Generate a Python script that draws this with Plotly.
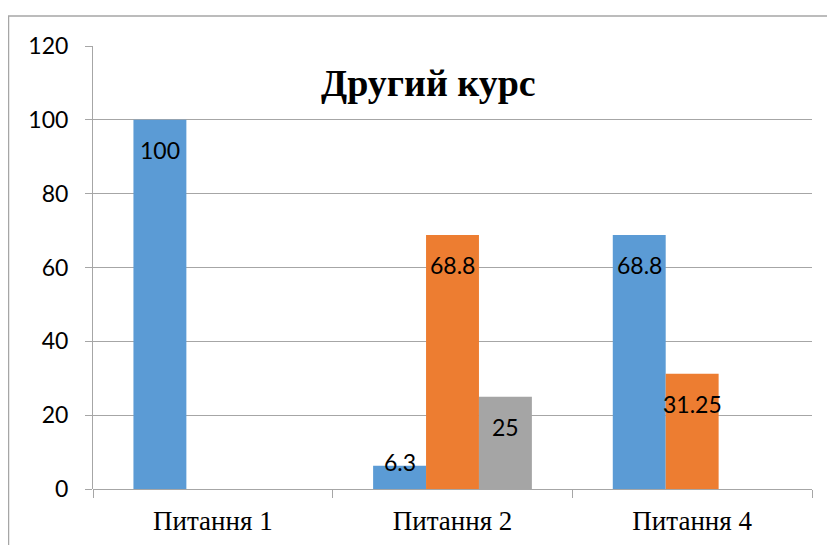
import plotly.graph_objects as go

categories = ["Питання 1", "Питання 2", "Питання 4"]
series_blue = [100, 6.3, 68.8]
series_orange = [None, 68.8, 31.25]
series_gray = [None, 25, None]
labels_blue = ["100", "6.3", "68.8"]
labels_orange = [None, "68.8", "31.25"]
labels_gray = [None, "25", None]
title_text = "Другий курс"
y_ticks = [0, 20, 40, 60, 80, 100, 120]

colors = ["#5B9BD5", "#ED7D31", "#A5A5A5"]
# page body adds an 8px offset; figure coords below are relative to the figure
W, H = 835, 545
ML, MR, MT, MB = 85, 31, 38, 64
BARGAP = 0.3375
label_font = dict(family="Lato, Open Sans, sans-serif", size=23, color="#000000")

series = [(series_blue, labels_blue, colors[0]),
          (series_orange, labels_orange, colors[1]),
          (series_gray, labels_gray, colors[2])]

fig = go.Figure()
for vals, labs, col in series:
    fig.add_trace(go.Bar(
        x=categories, y=vals,
        marker=dict(color=col, line=dict(width=0)),
        showlegend=False, hoverinfo="x+y",
    ))

plot_w = W - ML - MR
plot_h = H - MT - MB
bar_w = plot_w / len(categories) * (1 - BARGAP) / len(series)
annotations = []
for si, (vals, labs, col) in enumerate(series):
    for cat, v, lab in zip(categories, vals, labs):
        if v is None or lab is None:
            continue
        fits = v * plot_h / 120 > 40
        annotations.append(dict(
            x=cat, y=v, xref="x", yref="y", text=lab, showarrow=False,
            xanchor="center", yanchor="middle",
            xshift=(si - 1) * bar_w, yshift=-30 if fits else 4,
            font=label_font,
        ))

annotations.append(dict(
    text="<b>" + title_text + "</b>", x=(420 - ML) / plot_w, y=(H - MB - 75) / plot_h,
    xref="paper", yref="paper", showarrow=False, xanchor="center", yanchor="middle",
    font=dict(family="Liberation Serif", size=38, color="#000"),
))

fig.update_layout(
    width=W, height=H,
    barmode="group", bargap=BARGAP, bargroupgap=0,
    plot_bgcolor="white", paper_bgcolor="white",
    margin=dict(l=ML, r=MR, t=MT, b=MB, autoexpand=False),
    xaxis=dict(
        type="category", tickson="boundaries", ticks="outside", ticklen=8,
        tickcolor="#A6A6A6", showline=False, showgrid=False, automargin=False,
        ticklabelstandoff=13,
        tickfont=dict(family="Liberation Serif", size=27, color="#000"),
    ),
    yaxis=dict(
        range=[0, 120], tickvals=y_ticks, ticks="outside", ticklen=7,
        tickcolor="#A6A6A6", showline=True, linecolor="#A6A6A6", linewidth=1,
        showgrid=True, gridcolor="#A6A6A6", gridwidth=1, zeroline=True,
        zerolinecolor="#A6A6A6", zerolinewidth=1, automargin=False,
        ticklabelstandoff=12,
        tickfont=dict(family="Lato, Open Sans, sans-serif", size=23, color="#000"),
    ),
    annotations=annotations,
    shapes=[dict(
        type="rect", xref="paper", yref="paper",
        x0=(0.5 - ML) / plot_w, x1=1.2, y0=-0.3, y1=(H - MB - 8) / plot_h,
        line=dict(color="#A6A6A6", width=1.5), fillcolor="rgba(0,0,0,0)", layer="below",
    )],
)

fig.write_html("out.html")
